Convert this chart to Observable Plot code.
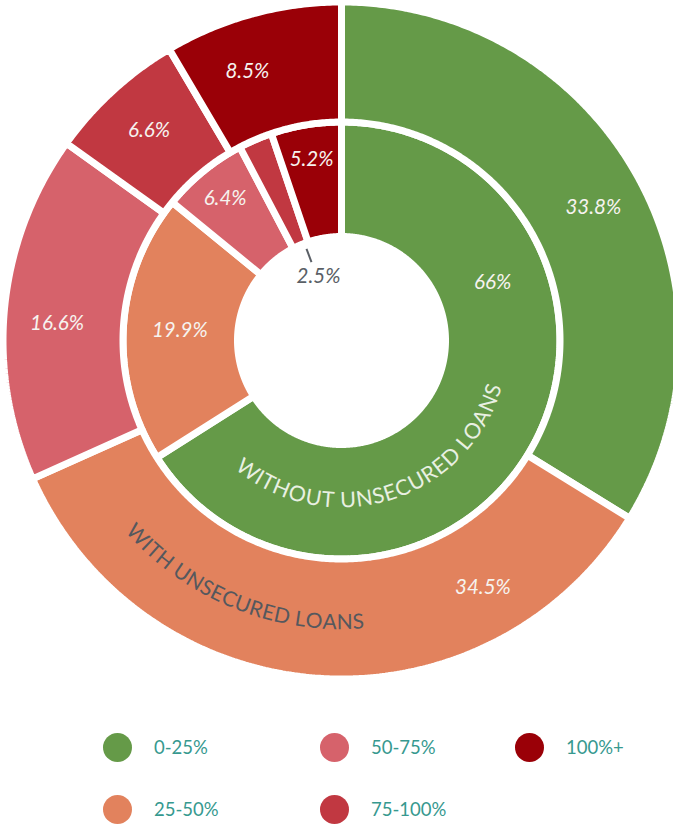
<!DOCTYPE html>
<html><head><meta charset="utf-8">
<script src="https://cdn.jsdelivr.net/npm/d3@7"></script>
<script src="https://cdn.jsdelivr.net/npm/@observablehq/plot@0.6"></script>
<style>
html,body{margin:0;padding:0;background:#fff;overflow:hidden;}
#wrap{position:relative;width:673px;height:824px;font-family:Lato,sans-serif;overflow:hidden;}
#chart{position:absolute;left:0;top:0;}
.lg{position:absolute;display:flex;align-items:center;color:#36998f;font-size:18.5px;line-height:1;}
.lg .dot{width:29px;height:29px;border-radius:50%;display:inline-block;margin-right:22px;}
</style></head>
<body><div id="wrap"><div id="chart"></div><div id="legend"></div></div>
<script>
// ---- data ----
const categories = ["0-25%", "25-50%", "50-75%", "75-100%", "100%+"];
const colors = ["#659a48", "#e2825d", "#d6626b", "#c13841", "#9a0007"];
const innerValues = [66, 19.9, 6.4, 2.5, 5.2];
const outerValues = [33.8, 34.5, 16.6, 6.6, 8.5];
const innerLabels = ["66%", "19.9%", "6.4%", "2.5%", "5.2%"];
const outerLabels = ["33.8%", "34.5%", "16.6%", "6.6%", "8.5%"];
const innerTitle = "WITHOUT UNSECURED LOANS";
const outerTitle = "WITH UNSECURED LOANS";

// ---- layout ----
const W = 673, H = 690, CX = 341, CY = 340;
const rings = {
  inner: {values: innerValues, labels: innerLabels, r0: 104, r1: 218.5, labelR: 162, smallR: 184},
  outer: {values: outerValues, labels: outerLabels, r0: 218.5, r1: 338.5, labelR: 285, smallR: 285}
};
// label placement as fraction along the slice (default 0.5)
const labelFrac = {"inner-0": 0.29, "outer-1": 0.23, "outer-2": 0.46, "outer-4": 0.37, "outer-0": 0.51};

const polys = [], labels = [], leaders = [];
for (const [ring, cfg] of Object.entries(rings)) {
  const total = d3.sum(cfg.values);
  let cum = 0;
  cfg.values.forEach((v, i) => {
    const a0 = cum / total * 2 * Math.PI, a1 = (cum + v) / total * 2 * Math.PI;
    cum += v;
    const id = ring + "-" + i;
    const n = Math.max(2, Math.ceil((a1 - a0) / (Math.PI / 360)));
    for (let k = 0; k <= n; k++) {
      const a = a0 + (a1 - a0) * k / n;
      polys.push({id, cat: categories[i], x: cfg.r1 * Math.sin(a), y: -cfg.r1 * Math.cos(a)});
    }
    for (let k = n; k >= 0; k--) {
      const a = a0 + (a1 - a0) * k / n;
      polys.push({id, cat: categories[i], x: cfg.r0 * Math.sin(a), y: -cfg.r0 * Math.cos(a)});
    }
    const f = labelFrac[id] ?? 0.5;
    const am = a0 + (a1 - a0) * f;
    if (v < 3) {
      const r = 68;
      labels.push({text: cfg.labels[i], x: r * Math.sin(am + 0.06), y: -r * Math.cos(am + 0.06), fill: "#5a5f66"});
      leaders.push({x1: 98 * Math.sin(am + 0.04), y1: -98 * Math.cos(am + 0.04), x2: 84 * Math.sin(am + 0.04), y2: -84 * Math.cos(am + 0.04)});
    } else {
      const r = v < 10 ? cfg.smallR : cfg.labelR;
      labels.push({text: cfg.labels[i], x: r * Math.sin(am), y: -r * Math.cos(am), fill: "#f6f3ef"});
    }
  });
}

// curved text along an arc, reading left-to-right across the bottom
const ctx = document.createElement("canvas").getContext("2d");
function curved(str, r, centerDeg, size, spacing) {
  ctx.font = `${size}px Lato`;
  const ws = [...str].map(c => ctx.measureText(c).width + spacing);
  const total = d3.sum(ws);
  let s = -total / 2;
  return [...str].map((c, i) => {
    const mid = s + ws[i] / 2;
    s += ws[i];
    const th = centerDeg * Math.PI / 180 - mid / r;
    return {c, x: r * Math.sin(th), y: -r * Math.cos(th), rot: th * 180 / Math.PI - 180};
  });
}
const innerChars = curved(innerTitle, 160, 163, 21.5, 0.2);
const outerChars = curved(outerTitle, 282, 202, 21, 0);

const chart = Plot.plot({
  width: W, height: H, margin: 0,
  style: {fontFamily: "Lato, sans-serif", background: "white"},
  x: {domain: [-CX, W - CX], axis: null},
  y: {domain: [H - CY, -CY], axis: null},
  color: {domain: categories, range: colors},
  marks: [
    Plot.line(polys, {x: "x", y: "y", z: "id", fill: "cat", stroke: "white", strokeWidth: 7, curve: "linear-closed", strokeLinejoin: "miter"}),
    Plot.link(leaders, {x1: "x1", y1: "y1", x2: "x2", y2: "y2", stroke: "#5a5f66", strokeWidth: 2}),
    Plot.text(labels, {x: "x", y: "y", text: "text", fill: d => d.fill, fontSize: 20.5, fontStyle: "italic", textAnchor: "middle", lineAnchor: "middle"}),
    Plot.text(innerChars, {x: "x", y: "y", text: "c", rotate: "rot", fill: "#e9f0e2", fontSize: 21.5, textAnchor: "middle", lineAnchor: "middle"}),
    Plot.text(outerChars, {x: "x", y: "y", text: "c", rotate: "rot", fill: "#55585e", fontSize: 21, textAnchor: "middle", lineAnchor: "middle"})
  ]
});
document.getElementById("chart").appendChild(chart);

// legend
const colLeft = [103, 320, 515];
const rowTop = [733, 795];
const legend = document.getElementById("legend");
categories.forEach((c, i) => {
  const col = Math.floor(i / 2), row = i % 2;
  const el = document.createElement("div");
  el.className = "lg";
  el.style.left = colLeft[col] + "px";
  el.style.top = rowTop[row] + "px";
  el.innerHTML = `<span class="dot" style="background:${colors[i]}"></span><span>${c}</span>`;
  legend.appendChild(el);
});
</script>
</body></html>
